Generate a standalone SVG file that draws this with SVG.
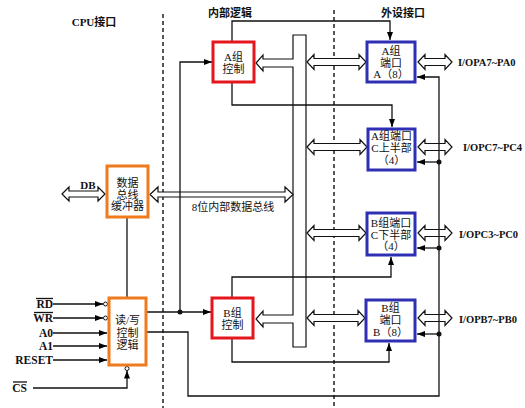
<svg xmlns="http://www.w3.org/2000/svg" width="525" height="408" viewBox="0 0 525 408">
<defs>
<marker id="ah" viewBox="0 0 8 6" refX="8" refY="3" markerWidth="8" markerHeight="6" orient="auto" markerUnits="userSpaceOnUse"><path d="M0,0 L8,3 L0,6 Z" fill="#000"/></marker>
</defs>
<style>
text{font-family:"Liberation Serif","Noto Sans CJK SC",serif;font-size:11px;fill:#111;text-anchor:middle}
.hdr{font-weight:bold}
.lbl{font-weight:bold;font-size:11.5px;text-anchor:end}
.ext{font-weight:bold;font-size:10.5px;text-anchor:start}
.red{fill:#fff;stroke:#e5161d;stroke-width:3}
.org{fill:#fff;stroke:#f07a1e;stroke-width:3}
.blu{fill:#fff;stroke:#2f2fb4;stroke-width:3}
.hol{fill:#fff;stroke:#111;stroke-width:1.2;stroke-linejoin:miter}
.ln{fill:none;stroke:#111;stroke-width:1.3}
.arr{fill:none;stroke:#111;stroke-width:1.3;marker-end:url(#ah)}
.dash{stroke:#111;stroke-width:1.4;stroke-dasharray:4,3}
.dot{fill:#111}
.inv{fill:#fff;stroke:#111;stroke-width:1}
</style>
<rect width="525" height="408" fill="#fff"/>

<g id="regions">
<line class="dash" x1="163" y1="14" x2="163" y2="408"/>
<line class="dash" x1="334" y1="10" x2="334" y2="408"/>
<text class="hdr" x="94" y="26">CPU接口</text>
<text class="hdr" x="230" y="17">内部逻辑</text>
<text class="hdr" x="403" y="17">外设接口</text>
</g>

<g id="internal-bus">
<path class="hol" d="M293,35 H306 V347 H293 V323 H263 V327 L256,319 L263,311 V315 H293 V67 H263 V71 L256,63 L263,55 V59 H293 Z"/>
<polygon class="hol" points="150,194.5 158,187 158,192 285,192 285,187 293,194.5 285,202 285,197 158,197 158,202"/>
<text x="233" y="211">8位内部数据总线</text>
</g>

<g id="db-bus">
<polygon class="hol" points="62,194 69,187 69,191 98,191 98,187 105,194 98,201 98,197 69,197 69,201"/>
<text class="hdr" x="88" y="189">DB</text>
</g>

<g id="bus-port-arrows">
<polygon class="hol" points="307,62 314,54.5 314,58.5 359,58.5 359,54.5 366,62 359,69.5 359,65.5 314,65.5 314,69.5"/>
<polygon class="hol" points="307,147 314,139.5 314,143.5 360,143.5 360,139.5 367,147 360,154.5 360,150.5 314,150.5 314,154.5"/>
<polygon class="hol" points="307,233 314,225.5 314,229.5 359,229.5 359,225.5 366,233 359,240.5 359,236.5 314,236.5 314,240.5"/>
<polygon class="hol" points="307,318 314,310.5 314,314.5 358,314.5 358,310.5 365,318 358,325.5 358,321.5 314,321.5 314,325.5"/>
</g>

<g id="ext-arrows">
<polygon class="hol" points="418,62 425,54.5 425,58.5 445,58.5 445,54.5 452,62 445,69.5 445,65.5 425,65.5 425,69.5"/>
<polygon class="hol" points="418,147 425,139.5 425,143.5 445,143.5 445,139.5 452,147 445,154.5 445,150.5 425,150.5 425,154.5"/>
<polygon class="hol" points="418,233 425,225.5 425,229.5 445,229.5 445,225.5 452,233 445,240.5 445,236.5 425,236.5 425,240.5"/>
<polygon class="hol" points="418,318 425,310.5 425,314.5 445,314.5 445,310.5 452,318 445,325.5 445,321.5 425,321.5 425,325.5"/>
<text class="ext" x="458" y="66">I/OPA7~PA0</text>
<text class="ext" x="463" y="151">I/OPC7~PC4</text>
<text class="ext" x="459" y="238">I/OPC3~PC0</text>
<text class="ext" x="459" y="323">I/OPB7~PB0</text>
</g>

<g id="connectors">
<line class="ln" x1="127" y1="218" x2="127" y2="297"/>
<line class="arr" x1="147" y1="312" x2="211" y2="312"/>
<polyline class="arr" points="180,312 180,62 212,62"/>
<circle class="dot" cx="180" cy="312" r="2.5"/>
<polyline class="arr" points="147,332 188,332 188,396 439,396 439,77 417,77"/>
<line class="arr" x1="439" y1="162" x2="417" y2="162"/>
<line class="arr" x1="439" y1="248" x2="417" y2="248"/>
<line class="arr" x1="439" y1="334" x2="417" y2="334"/>
<circle class="dot" cx="439" cy="162" r="2.5"/>
<circle class="dot" cx="439" cy="248" r="2.5"/>
<circle class="dot" cx="439" cy="334" r="2.5"/>
<polyline class="arr" points="232,41 232,21 390,21 390,40"/>
<polyline class="arr" points="232,83 232,105 392,105 392,127"/>
<polyline class="arr" points="232,297 232,277 391,277 391,257"/>
<polyline class="arr" points="232,339 232,362 389,362 389,343"/>
<line class="arr" x1="53" y1="304" x2="103" y2="304"/>
<circle class="inv" cx="105.5" cy="304" r="2"/>
<line class="arr" x1="53" y1="318" x2="103" y2="318"/>
<circle class="inv" cx="105.5" cy="318" r="2"/>
<line class="arr" x1="53" y1="333" x2="107" y2="333"/>
<line class="arr" x1="53" y1="346" x2="107" y2="346"/>
<line class="arr" x1="53" y1="360" x2="107" y2="360"/>
<polyline class="arr" points="33,388 127,388 127,370.5"/>
<circle class="inv" cx="127" cy="368.5" r="2"/>
</g>

<g id="inputs">
<text class="lbl" x="53" y="308">RD</text>
<line class="ln" x1="36" y1="298.5" x2="53" y2="298.5"/>
<text class="lbl" x="53" y="322">WR</text>
<line class="ln" x1="34" y1="312.5" x2="53" y2="312.5"/>
<text class="lbl" x="53" y="337">A0</text>
<text class="lbl" x="53" y="350">A1</text>
<text class="lbl" x="53" y="364">RESET</text>
<text class="lbl" x="27" y="392">CS</text>
<line class="ln" x1="13" y1="382" x2="27" y2="382"/>
</g>

<g id="buffer">
<rect class="org" x="107" y="166" width="41" height="51"/>
<text x="127.5" y="187">数据</text>
<text x="127.5" y="199">总线</text>
<text x="127.5" y="210">缓冲器</text>
</g>

<g id="rw-logic">
<rect class="org" x="109" y="298" width="37" height="67"/>
<text x="127.5" y="323.5">读/写</text>
<text x="127.5" y="336.5">控制</text>
<text x="127.5" y="349">逻辑</text>
</g>

<g id="a-ctrl">
<rect class="red" x="213" y="42" width="41" height="40"/>
<text x="233.5" y="61">A组</text>
<text x="233.5" y="73">控制</text>
</g>

<g id="b-ctrl">
<rect class="red" x="212" y="298" width="41" height="40"/>
<text x="232.5" y="317">B组</text>
<text x="232.5" y="329">控制</text>
</g>

<g id="port-a">
<rect class="blu" x="367" y="42" width="48" height="40"/>
<text x="391" y="55">A组</text>
<text x="391" y="66.5">端口</text>
<text x="391" y="78">A（8）</text>
</g>

<g id="port-c-upper">
<rect class="blu" x="368" y="129" width="47" height="41"/>
<text x="391.5" y="140">A组端口</text>
<text x="391.5" y="152">C上半部</text>
<text x="391.5" y="164">（4）</text>
</g>

<g id="port-c-lower">
<rect class="blu" x="367" y="213" width="48" height="42"/>
<text x="391" y="227">B组端口</text>
<text x="391" y="238.5">C下半部</text>
<text x="391" y="250">（4）</text>
</g>

<g id="port-b">
<rect class="blu" x="366" y="300" width="49" height="41"/>
<text x="390.5" y="312">B组</text>
<text x="390.5" y="323.5">端口</text>
<text x="390.5" y="336">B（8）</text>
</g>
</svg>
